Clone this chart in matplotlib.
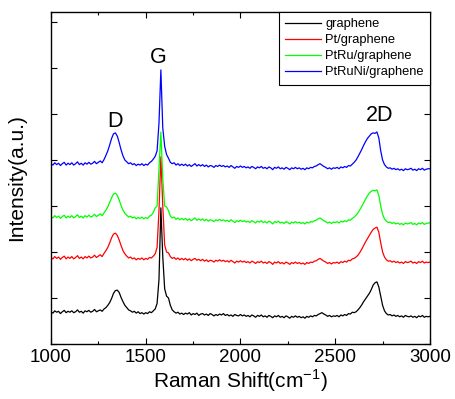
import matplotlib.pyplot as plt
import numpy as np
from matplotlib.ticker import MultipleLocator

plt.rcParams["font.family"] = ["Liberation Sans", "DejaVu Sans"]

# Raman shift axis, 10 cm^-1 step
shift = np.arange(1000, 3001, 10)

# stacked spectra (already offset), arbitrary units
graphene = [
    70, 67, 72, 69, 71, 66, 70, 73, 68, 71,
    69, 72, 68, 70, 74, 69, 71, 67, 72, 70,
    73, 69, 71, 75, 70, 72, 74, 71, 76, 79,
    84, 90, 99, 110, 116, 117, 112, 101, 92, 84,
    79, 74, 72, 69, 71, 67, 70, 66, 68, 65,
    68, 66, 70, 68, 72, 76, 88, 140, 296, 190,
    120, 104, 100, 84, 74, 70, 67, 69, 65, 67,
    64, 67, 65, 68, 63, 66, 64, 67, 62, 65,
    66, 63, 65, 62, 66, 64, 61, 64, 62, 65,
    63, 66, 62, 64, 61, 63, 60, 64, 62, 61,
    64, 61, 63, 60, 62, 59, 63, 61, 58, 62,
    60, 63, 59, 61, 58, 62, 60, 57, 61, 59,
    62, 58, 60, 57, 61, 59, 56, 60, 58, 61,
    58, 60, 57, 59, 56, 60, 58, 61, 59, 62,
    61, 64, 66, 68, 65, 63, 60, 62, 59, 61,
    60, 62, 59, 63, 61, 64, 62, 66, 65, 69,
    68, 70, 74, 79, 85, 92, 98, 104, 110, 118,
    128, 133, 135, 124, 104, 84, 72, 66, 63, 64,
    61, 63, 60, 62, 59, 61, 58, 62, 60, 59,
    61, 58, 60, 57, 61, 59, 62, 58, 60, 59,
    60,
]

pt_graphene = [
    188, 185, 190, 186, 189, 184, 188, 191, 185, 189,
    186, 190, 185, 188, 192, 186, 189, 185, 190, 187,
    191, 187, 189, 193, 188, 191, 194, 190, 197, 203,
    210, 220, 231, 239, 241, 236, 226, 214, 203, 196,
    191, 187, 189, 185, 187, 183, 186, 184, 187, 183,
    186, 184, 188, 187, 191, 196, 210, 290, 407, 300,
    215, 200, 198, 190, 186, 188, 184, 187, 183, 186,
    183, 186, 182, 185, 181, 184, 186, 182, 184, 181,
    184, 180, 183, 179, 182, 181, 178, 182, 180, 183,
    180, 182, 179, 181, 178, 182, 179, 176, 180, 178,
    181, 178, 180, 177, 179, 176, 180, 178, 175, 179,
    177, 180, 176, 178, 175, 179, 177, 173, 178, 176,
    179, 175, 177, 174, 178, 176, 173, 177, 175, 178,
    175, 177, 174, 176, 173, 177, 175, 178, 177, 180,
    181, 184, 186, 183, 180, 178, 175, 177, 174, 177,
    176, 178, 175, 179, 177, 180, 178, 182, 181, 185,
    186, 189, 193, 199, 206, 214, 222, 229, 236, 243,
    249, 252, 254, 243, 220, 200, 189, 183, 180, 181,
    178, 180, 177, 179, 176, 178, 175, 179, 177, 178,
    180, 176, 178, 175, 179, 177, 180, 176, 178, 177,
    178,
]

ptru_graphene = [
    277, 274, 279, 275, 278, 273, 277, 280, 274, 278,
    275, 279, 274, 277, 281, 275, 278, 274, 279, 276,
    280, 276, 278, 282, 277, 280, 283, 279, 285, 291,
    298, 308, 318, 326, 328, 323, 313, 301, 291, 284,
    280, 276, 278, 274, 276, 272, 275, 273, 276, 272,
    275, 273, 278, 280, 286, 296, 300, 380, 461, 360,
    300, 298, 290, 278, 274, 276, 271, 274, 270, 273,
    270, 273, 269, 272, 268, 271, 274, 269, 272, 269,
    272, 268, 271, 267, 270, 269, 266, 270, 268, 271,
    268, 270, 267, 269, 266, 270, 267, 264, 268, 266,
    269, 266, 268, 265, 267, 264, 268, 266, 263, 267,
    265, 268, 264, 266, 263, 267, 265, 261, 266, 264,
    267, 263, 265, 262, 266, 264, 261, 265, 263, 266,
    263, 265, 262, 264, 261, 265, 263, 266, 265, 268,
    269, 272, 274, 271, 268, 266, 263, 265, 262, 265,
    264, 266, 263, 267, 265, 268, 266, 270, 269, 273,
    276, 280, 285, 292, 299, 307, 315, 322, 328, 332,
    334, 333, 335, 323, 300, 282, 272, 267, 264, 265,
    262, 264, 261, 263, 260, 262, 259, 263, 261, 262,
    264, 260, 262, 259, 263, 261, 264, 260, 262, 263,
    263,
]

ptruni_graphene = [
    392, 389, 394, 390, 393, 388, 392, 395, 389, 393,
    390, 394, 389, 392, 396, 390, 393, 389, 394, 391,
    395, 391, 393, 397, 392, 395, 398, 394, 401, 410,
    420, 433, 447, 457, 459, 452, 438, 422, 409, 400,
    396, 392, 394, 390, 392, 388, 391, 389, 392, 388,
    391, 389, 394, 397, 402, 408, 420, 480, 596, 470,
    430, 412, 404, 395, 392, 394, 389, 392, 388, 391,
    388, 391, 387, 390, 386, 389, 392, 387, 390, 387,
    390, 386, 389, 385, 388, 387, 384, 388, 386, 389,
    386, 388, 385, 387, 384, 388, 385, 382, 386, 384,
    387, 384, 386, 383, 385, 382, 386, 384, 381, 385,
    383, 386, 382, 384, 381, 385, 383, 379, 384, 382,
    385, 381, 383, 380, 384, 382, 379, 383, 381, 384,
    381, 383, 380, 382, 379, 383, 381, 384, 383, 386,
    387, 390, 392, 389, 386, 384, 381, 383, 380, 383,
    382, 384, 381, 385, 383, 386, 384, 388, 387, 391,
    395, 400, 407, 415, 423, 432, 440, 447, 452, 457,
    459, 458, 461, 448, 420, 400, 390, 385, 382, 383,
    380, 382, 379, 381, 378, 380, 377, 381, 379, 380,
    382, 378, 380, 377, 381, 379, 382, 378, 380, 381,
    381,
]

labels = ["graphene", "Pt/graphene", "PtRu/graphene", "PtRuNi/graphene"]
colors = ["black", "#ff0000", "#00ff00", "#0000ff"]

fig = plt.figure(figsize=(4.55, 3.99), dpi=100, facecolor="white")
ax = fig.add_axes([0.112, 0.138, 0.833, 0.832])

for ys, lab, c in zip([graphene, pt_graphene, ptru_graphene, ptruni_graphene], labels, colors):
    ax.plot(shift, ys, color=c, lw=0.9, label=lab)

ax.set_xlim(1000, 3000)
ax.set_ylim(0, 722)
ax.xaxis.set_major_locator(MultipleLocator(500))
ax.xaxis.set_minor_locator(MultipleLocator(250))
ax.yaxis.set_major_locator(MultipleLocator(100))
ax.set_yticklabels([])
ax.tick_params(which="both", direction="in", top=True, right=True, width=0.8)
ax.tick_params(which="major", length=4, labelsize=13.5, pad=4)
ax.tick_params(which="minor", length=2.5)
for s in ax.spines.values():
    s.set_linewidth(1.0)

ax.set_xlabel("Raman Shift(cm$^{\\mathregular{-1}}$)", fontsize=15, labelpad=1)
ax.set_ylabel("Intensity(a.u.)", fontsize=15, labelpad=14)

ax.text(1338, 483, "D", fontsize=15.5, ha="center", va="center")
ax.text(1565, 622, "G", fontsize=15.5, ha="center", va="center")
ax.text(2736, 496, "2D", fontsize=15.5, ha="center", va="center")

leg = ax.legend(loc="upper right", fontsize=9.3, borderaxespad=0, fancybox=False,
                framealpha=1, edgecolor="black", handlelength=2.8,
                handletextpad=0.3, labelspacing=0.3, borderpad=0.5)
leg.get_frame().set_linewidth(0.8)

fig.savefig("out.png", dpi=100)
